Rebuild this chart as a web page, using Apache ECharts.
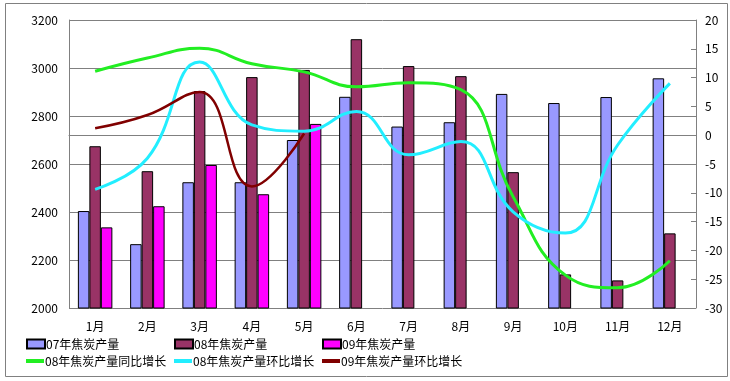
<!DOCTYPE html>
<html><head><meta charset="utf-8">
<script src="https://cdn.jsdelivr.net/npm/echarts@6/dist/echarts.min.js"></script>
<style>html,body{margin:0;padding:0;background:#fff}#c{width:730px;height:381px}</style>
</head><body><div id="c"></div>
<script>
var categories = ['1月','2月','3月','4月','5月','6月','7月','8月','9月','10月','11月','12月'];
var prod07 = [2404, 2266, 2524, 2524, 2700, 2880, 2756, 2774, 2892, 2854, 2879, 2957];
var prod08 = [2674, 2570, 2904, 2962, 2992, 3120, 3008, 2966, 2566, 2140, 2115, 2311];
var prod09 = [2336, 2424, 2596, 2474, 2767, null, null, null, null, null, null, null];
var yoy08 = [11.1, 13.4, 15.1, 12.4, 11.0, 8.4, 9.1, 7.9, -10.7, -24.3, -26.5, -21.8];
var mom08 = [-9.4, -4.0, 12.7, 1.8, 0.7, 4.1, -3.4, -1.1, -13.3, -17.0, -1.7, 9.0];
var mom09 = [1.2, 3.5, 7.5, -8.9, 0.3, null, null, null, null, null, null, null];
var leftTicks = [2000, 2200, 2400, 2600, 2800, 3000, 3200];
var rightTicks = [-30, -25, -20, -15, -10, -5, 0, 5, 10, 15, 20];
var names = ['07年焦炭产量','08年焦炭产量','09年焦炭产量','08年焦炭产量同比增长','08年焦炭产量环比增长','09年焦炭产量环比增长'];

var font = '"Noto Sans CJK SC", sans-serif';
var chart = echarts.init(document.getElementById('c'));
function lg(name, left, top, isBar) {
  return {
    data: [name], left: left, top: top, padding: 0, itemGap: 0,
    itemWidth: 18, itemHeight: isBar ? 9 : 4, icon: 'rect',
    textStyle: {fontFamily: font, fontSize: 12, color: '#000', padding: [0,0,0,-4]},
    selectedMode: false
  };
}
function bar(name, data, color) {
  return {name: name, type: 'bar', data: data, barGap: '0%', barCategoryGap: '34%',
    itemStyle: {color: color, borderColor: '#000', borderWidth: 1}, yAxisIndex: 0};
}
function line(name, data, color, w) {
  return {name: name, type: 'line', data: data, yAxisIndex: 1, smooth: 0.45,
    symbol: 'none', lineStyle: {color: color, width: w}, itemStyle: {color: color}};
}
chart.setOption({
  animation: false,
  textStyle: {fontFamily: font},
  grid: {left: 69, right: 34, top: 20, bottom: 73},
  graphic: [{type: 'rect', shape: {x: 5.5, y: 3.5, width: 722, height: 373},
    style: {fill: null, stroke: '#808080', lineWidth: 1}, silent: true}],
  legend: [
    lg(names[0], 26, 338, true), lg(names[1], 174, 338, true), lg(names[2], 322, 338, true),
    lg(names[3], 26, 355, false), lg(names[4], 174, 355, false), lg(names[5], 322, 355, false)
  ],
  xAxis: {type: 'category', data: categories,
    axisLine: {lineStyle: {color: '#808080'}},
    axisTick: {inside: true, length: 4, lineStyle: {color: '#808080'}},
    axisLabel: {color: '#000', fontSize: 12, margin: 12, fontFamily: font}},
  yAxis: [
    {type: 'value', min: leftTicks[0], max: leftTicks[leftTicks.length-1], interval: 200,
      axisLine: {show: true, lineStyle: {color: '#808080'}},
      axisTick: {show: false},
      splitLine: {lineStyle: {color: '#808080'}},
      axisLabel: {color: '#000', fontSize: 12, margin: 11, fontFamily: font,
        formatter: function (v) { return String(v); }}},
    {type: 'value', min: rightTicks[0], max: rightTicks[rightTicks.length-1], interval: 5,
      axisLine: {show: true, lineStyle: {color: '#808080'}},
      axisTick: {show: true, inside: true, length: 5, lineStyle: {color: '#808080'}},
      splitLine: {show: false},
      axisLabel: {color: '#000', fontSize: 12, margin: 9, fontFamily: font,
        formatter: function (v) { return String(v); }}}
  ],
  series: [
    bar(names[0], prod07, '#9999FF'),
    bar(names[1], prod08, '#993366'),
    bar(names[2], prod09, '#FF00FF'),
    line(names[3], yoy08, '#22EE22', 3),
    line(names[4], mom08, '#22EEFF', 3),
    line(names[5], mom09, '#800000', 2.5)
  ]
});
</script></body></html>
